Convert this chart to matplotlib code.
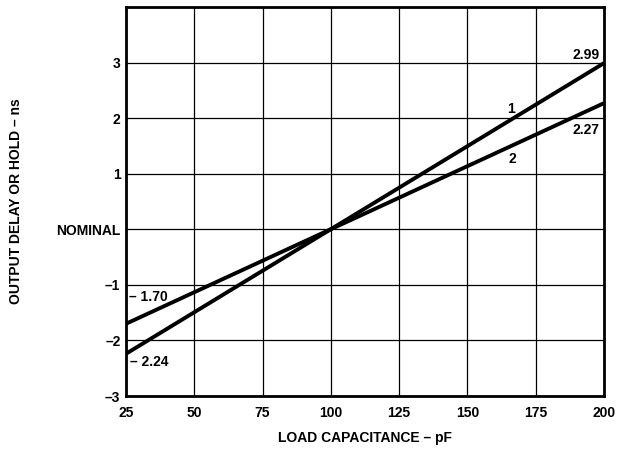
import matplotlib
matplotlib.use("Agg")
import matplotlib.pyplot as plt

# data
load_pf = [25, 200]
curve_1 = [-2.24, 2.99]
curve_2 = [-1.70, 2.27]

x_ticks = [25, 50, 75, 100, 125, 150, 175, 200]
y_ticks = [-3, -2, -1, 0, 1, 2, 3, 4]
y_tick_labels = ["\u20133", "\u20132", "\u20131", "NOMINAL", "1", "2", "3", ""]

plt.rcParams["font.family"] = ["Liberation Sans", "DejaVu Sans"]
plt.rcParams["font.weight"] = "bold"

fig = plt.figure(figsize=(6.26, 4.49), dpi=100)
ax = fig.add_axes([126 / 626, 1 - 396 / 449, (604 - 126) / 626, (396 - 7) / 449])

ax.plot(load_pf, curve_1, color="black", lw=2.8, solid_capstyle="butt", zorder=3)
ax.plot(load_pf, curve_2, color="black", lw=2.8, solid_capstyle="butt", zorder=3)

ax.set_xlim(25, 200)
ax.set_ylim(-3, 4)
ax.set_xticks(x_ticks)
ax.set_yticks(y_ticks)
ax.set_yticklabels(y_tick_labels)
ax.tick_params(length=0, labelsize=10)
ax.tick_params(axis="x", pad=7)
ax.tick_params(axis="y", pad=4)
for lbl in ax.get_xticklabels() + ax.get_yticklabels():
    lbl.set_fontweight("bold")
ax.grid(True, color="black", lw=0.9)
for sp in ax.spines.values():
    sp.set_linewidth(2.0)

ax.set_xlabel("LOAD CAPACITANCE \u2013 pF", fontsize=10, fontweight="bold", labelpad=8)
ax.set_ylabel("OUTPUT DELAY OR HOLD \u2013 ns", fontsize=10, fontweight="bold", labelpad=24)

txt = dict(fontsize=10, fontweight="bold", color="black")
ax.text(26, -1.22, "\u2013 1.70", ha="left", va="center", **txt)
ax.text(26.5, -2.38, "\u2013 2.24", ha="left", va="center", **txt)
ax.text(198.5, 3.14, "2.99", ha="right", va="center", **txt)
ax.text(198.5, 1.79, "2.27", ha="right", va="center", **txt)
ax.text(166, 2.16, "1", ha="center", va="center", **txt)
ax.text(166.5, 1.26, "2", ha="center", va="center", **txt)

fig.savefig("out.png", dpi=100)
